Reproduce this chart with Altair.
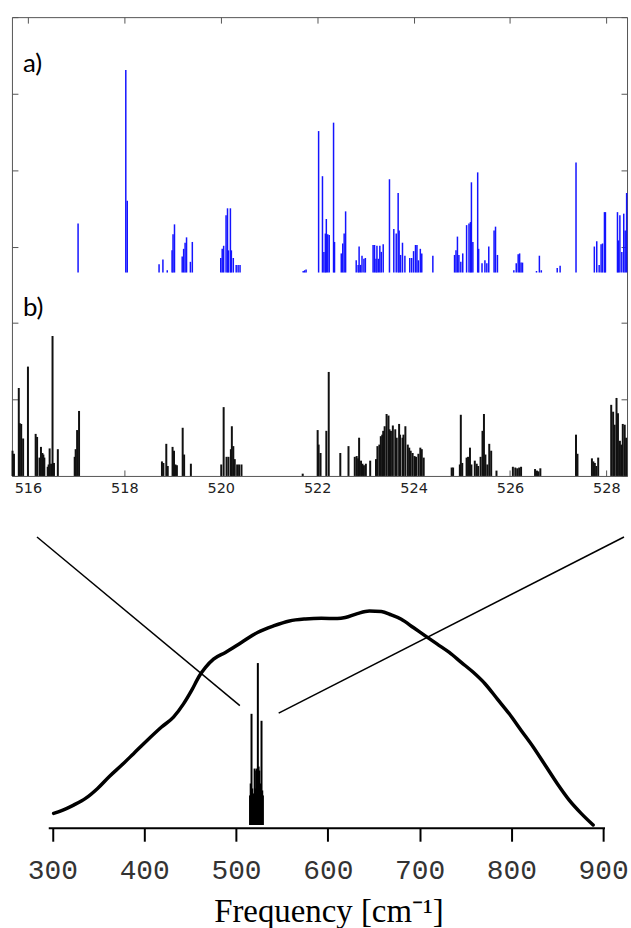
import altair as alt
import pandas as pd

# ---------------- top panel (a: blue sticks, offset; b: black sticks) ----------------
blue_freq = [517.04, 518.03, 518.06, 518.72, 518.80, 518.89, 518.99, 519.01, 519.04, 519.20,
             519.23, 519.26, 519.29, 519.37, 519.41, 520.00, 520.03, 520.06, 520.11, 520.14,
             520.16, 520.20, 520.22, 520.26, 520.32, 520.36, 520.40, 521.71, 521.74, 521.77,
             522.03, 522.11, 522.14, 522.17, 522.19, 522.22, 522.25, 522.34, 522.36, 522.50,
             522.53, 522.56, 522.59, 522.81, 522.85, 522.87, 522.90, 522.93, 522.97, 523.00,
             523.16, 523.19, 523.22, 523.24, 523.27, 523.30, 523.33, 523.37, 523.50, 523.59,
             523.64, 523.68, 523.70, 523.73, 523.77, 523.82, 523.92, 523.96, 524.00, 524.04,
             524.07, 524.10, 524.14, 524.17, 524.40, 524.85, 524.88, 524.91, 524.94, 524.98,
             525.02, 525.10, 525.15, 525.18, 525.20, 525.23, 525.33, 525.35, 525.42, 525.48,
             525.52, 525.56, 525.67, 525.70, 525.74, 526.08, 526.13, 526.17, 526.20, 526.23,
             526.26, 526.55, 526.61, 526.65, 526.98, 527.04, 527.37, 527.75, 527.80, 527.85,
             527.89, 527.92, 527.96, 527.98, 528.23, 528.25, 528.28, 528.32, 528.36, 528.39,
             528.42]
blue_val = [3.30, 5.31, 3.60, 2.77, 2.83, 2.69, 2.95, 3.16, 3.29, 2.87,
            2.97, 3.05, 3.12, 2.80, 3.06, 2.85, 2.97, 3.01, 3.41, 3.50,
            2.95, 3.50, 2.95, 2.85, 2.76, 2.76, 2.76, 2.68, 2.69, 2.70,
            4.51, 3.92, 2.93, 3.17, 3.36, 3.16, 3.15, 4.62, 3.06, 2.91,
            3.04, 3.17, 3.46, 2.82, 2.76, 3.00, 2.76, 2.88, 2.84, 2.85,
            3.02, 3.02, 2.84, 3.01, 2.84, 3.01, 2.93, 3.03, 3.88, 3.23,
            3.17, 3.70, 3.21, 2.89, 3.05, 2.88, 2.85, 2.85, 2.94, 3.02,
            3.02, 2.82, 2.97, 2.91, 2.88, 2.89, 2.95, 3.13, 2.89, 2.80,
            2.91, 3.28, 3.30, 3.32, 3.84, 3.06, 3.97, 2.97, 2.78, 2.82,
            2.78, 3.00, 3.21, 3.26, 2.89, 2.69, 2.78, 2.90, 2.91, 2.79,
            2.79, 2.68, 2.88, 2.69, 2.72, 2.75, 4.10, 3.00, 3.07, 2.76,
            3.03, 3.04, 3.45, 3.45, 3.45, 3.08, 3.41, 2.93, 3.43, 3.21,
            3.70]
blue_base = 2.66

black_freq = [515.68, 515.71, 515.81, 515.83, 515.86, 515.90, 516.00, 516.16, 516.19, 516.24,
              516.27, 516.30, 516.32, 516.34, 516.41, 516.43, 516.45, 516.48, 516.51, 516.54,
              516.62, 516.97, 516.99, 517.02, 517.06, 518.78, 518.81, 518.87, 518.90, 519.00,
              519.03, 519.06, 519.09, 519.21, 519.24, 519.38, 520.01, 520.06, 520.12, 520.16,
              520.21, 520.23, 520.26, 520.29, 520.34, 520.38, 520.43, 521.70, 522.01, 522.03,
              522.07, 522.19, 522.24, 522.48, 522.65, 522.78, 522.82, 522.85, 522.87, 522.91,
              522.94, 522.97, 523.01, 523.10, 523.22, 523.25, 523.29, 523.32, 523.35, 523.37,
              523.40, 523.44, 523.48, 523.50, 523.53, 523.57, 523.62, 523.65, 523.70, 523.72,
              523.77, 523.79, 523.83, 523.88, 523.91, 523.94, 523.98, 524.02, 524.05, 524.10,
              524.14, 524.17, 524.21, 524.79, 524.82, 524.96, 524.98, 525.01, 525.10, 525.13,
              525.17, 525.20, 525.27, 525.31, 525.34, 525.39, 525.43, 525.46, 525.49, 525.53,
              525.57, 525.61, 525.72, 526.06, 526.11, 526.15, 526.19, 526.23, 526.52, 526.56,
              526.59, 526.63, 527.37, 527.40, 527.70, 527.73, 527.76, 527.79, 527.83, 528.10,
              528.14, 528.17, 528.21, 528.24, 528.28, 528.31, 528.34, 528.38, 528.41]
black_val = [0.33, 0.29, 1.15, 0.69, 0.68, 0.49, 1.43, 0.55, 0.51, 0.24,
             0.38, 0.30, 0.28, 0.24, 0.12, 0.15, 0.36, 0.16, 1.83, 0.17,
             0.35, 0.25, 0.35, 0.60, 0.85, 0.19, 0.17, 0.42, 0.13, 0.38,
             0.33, 0.15, 0.14, 0.63, 0.28, 0.16, 0.15, 0.90, 0.25, 0.25,
             0.35, 0.65, 0.39, 0.22, 0.15, 0.15, 0.15, 0.03, 0.60, 0.41,
             0.30, 0.59, 1.36, 0.30, 0.39, 0.25, 0.26, 0.23, 0.50, 0.20,
             0.16, 0.14, 0.16, 0.20, 0.22, 0.39, 0.41, 0.52, 0.54, 0.59,
             0.65, 0.81, 0.79, 0.61, 0.59, 0.66, 0.61, 0.50, 0.68, 0.54,
             0.50, 0.54, 0.65, 0.41, 0.37, 0.33, 0.30, 0.26, 0.25, 0.29,
             0.37, 0.35, 0.24, 0.11, 0.11, 0.15, 0.80, 0.17, 0.24, 0.25,
             0.37, 0.15, 0.20, 0.16, 0.13, 0.25, 0.59, 0.81, 0.28, 0.15,
             0.42, 0.33, 0.07, 0.12, 0.11, 0.10, 0.11, 0.12, 0.09, 0.07,
             0.06, 0.10, 0.54, 0.29, 0.23, 0.19, 0.17, 0.13, 0.24, 0.93,
             0.84, 0.67, 1.02, 0.82, 0.46, 0.41, 0.68, 0.67, 0.50]
black_base = 0.0

top_x_ticks = [516, 518, 520, 522, 524, 526, 528]
top_y_ticks = [0, 1, 2, 3, 4, 5, 6]
top_x_domain = [515.668, 528.428]
top_y_domain = [0, 6]

# ---------------- bottom panel (broad spectrum + narrow inset) ----------------
curve_freq = [301.3, 310.0, 323.1, 336.1, 349.2, 362.3, 375.3, 388.4, 401.4, 418.9,
              431.9, 442.8, 451.5, 460.2, 466.8, 475.5, 488.5, 505.9, 523.4, 540.8,
              558.2, 575.6, 593.0, 610.4, 619.1, 632.2, 645.3, 658.3, 669.2, 680.1,
              693.2, 706.2, 719.3, 732.4, 745.4, 758.5, 771.5, 784.6, 797.7, 810.7,
              823.8, 836.9, 849.9, 863.0, 876.0, 889.1]
curve_val = [15.0, 17.7, 23.3, 30.0, 40.0, 52.3, 63.3, 75.0, 86.7, 101.7,
             111.7, 125.0, 138.3, 153.3, 161.7, 170.0, 176.7, 186.7, 196.7, 203.3,
             208.3, 210.3, 211.0, 210.7, 211.7, 215.7, 218.3, 217.7, 214.3, 210.0,
             201.7, 193.3, 185.0, 176.7, 166.7, 156.7, 145.0, 130.0, 115.0, 98.3,
             81.7, 63.3, 45.0, 28.3, 15.0, 3.3]

inset_freq = [515.3, 516.0, 516.9, 517.7, 518.6, 519.5, 520.3, 521.2, 522.0, 522.8,
              523.8, 524.6, 525.4, 526.2, 527.0, 527.8, 528.6, 529.3]
inset_val = [33, 45, 115, 40, 33, 35, 60, 40, 58, 60,
             166, 62, 58, 45, 40, 108, 38, 33]
inset_base = 3.3

diag_left_freq = [283.2, 504.2]
diag_left_val = [292.7, 123.3]
diag_right_freq = [546.5, 922.7]
diag_right_val = [115.7, 292.7]

axis_span = [296, 902]
bottom_x_ticks = [300, 400, 500, 600, 700, 800, 900]
bottom_x_domain = [255.9, 926.0]
bottom_y_domain = [0, 325]

# ---------------- build top chart ----------------
TX = alt.Scale(domain=top_x_domain, nice=False, zero=False)
TY = alt.Scale(domain=top_y_domain, nice=False, zero=False)

blue_df = pd.DataFrame({"freq": blue_freq, "val": blue_val})
blue_df["base"] = blue_base
black_df = pd.DataFrame({"freq": black_freq, "val": black_val})
black_df["base"] = black_base

common = dict(domain=False, grid=False, ticks=True, tickSize=6, tickColor="#555",
              tickWidth=1, offset=-6, title=None)

blue = alt.Chart(blue_df).mark_rule(color="#1414ff", strokeWidth=1.5).encode(
    x=alt.X("freq:Q", scale=TX, axis=alt.Axis(
        orient="bottom", values=top_x_ticks, labels=True, format="d",
        labelFont="DejaVu Sans", labelFontSize=14.5, labelColor="#222",
        labelPadding=6, labelFlush=False, labelOverlap=False, **common)),
    y=alt.Y("base:Q", scale=TY, axis=alt.Axis(
        orient="left", values=top_y_ticks, labels=False, **common)),
    y2="val:Q",
)

black = alt.Chart(black_df).mark_rule(color="#111111", strokeWidth=2).encode(
    x=alt.X("freq:Q", scale=TX, axis=alt.Axis(
        orient="top", values=top_x_ticks, labels=False, **common)),
    y=alt.Y("base:Q", scale=TY, axis=alt.Axis(
        orient="right", values=top_y_ticks, labels=False, **common)),
    y2="val:Q",
)

lab_a = alt.Chart(pd.DataFrame({"label": ["a)"]})).mark_text(
    font="Lato", fontSize=26, align="left", baseline="alphabetic", color="black"
).encode(text="label:N", x=alt.value(11), y=alt.value(55))

lab_b = alt.Chart(pd.DataFrame({"label": ["b)"]})).mark_text(
    font="Lato", fontSize=26, align="left", baseline="alphabetic", color="black"
).encode(text="label:N", x=alt.value(11), y=alt.value(300))

top = alt.layer(blue, black, lab_a, lab_b).resolve_axis(
    x="independent", y="independent"
).properties(width=618, height=461,
             view=alt.ViewBackground(stroke="#555555", strokeWidth=1))

# ---------------- build bottom chart ----------------
BX = alt.Scale(domain=bottom_x_domain, nice=False, zero=False)
BY = alt.Scale(domain=bottom_y_domain, nice=False, zero=False)

bottom_axis = alt.Axis(
    orient="bottom", values=bottom_x_ticks, domain=False, grid=False,
    tickSize=13, tickWidth=2, tickColor="black", format="d",
    labelFont="Liberation Mono", labelFontSize=28, labelColor="#333",
    labelBaseline="alphabetic", labelPadding=37, labelFlush=False,
    labelOverlap=False,
    title="Frequency [cm⁻¹]", titleFont="Liberation Serif", titleFontSize=33,
    titleFontWeight="normal", titleColor="black", titleBaseline="alphabetic",
    titleAlign="center", titleX=318, titleY=94)

curve_df = pd.DataFrame({"freq": curve_freq, "val": curve_val})
curve = alt.Chart(curve_df).mark_line(
    color="black", strokeWidth=3.5, interpolate="monotone", strokeCap="round"
).encode(
    x=alt.X("freq:Q", scale=BX, axis=bottom_axis),
    y=alt.Y("val:Q", scale=BY, axis=None),
)

axis_df = pd.DataFrame({"freq": [axis_span[0]], "freq_end": [axis_span[1]], "val": [0.0]})
axis_line = alt.Chart(axis_df).mark_rule(color="black", strokeWidth=2).encode(
    x=alt.X("freq:Q", scale=BX, axis=bottom_axis),
    x2="freq_end:Q",
    y=alt.Y("val:Q", scale=BY, axis=None),
)

diag_df = pd.DataFrame({
    "freq": diag_left_freq + diag_right_freq,
    "val": diag_left_val + diag_right_val,
    "seg": ["left", "left", "right", "right"],
})
diag = alt.Chart(diag_df).mark_line(color="black", strokeWidth=1.5).encode(
    x=alt.X("freq:Q", scale=BX, axis=bottom_axis),
    y=alt.Y("val:Q", scale=BY, axis=None),
    detail="seg:N",
)

inset_df = pd.DataFrame({"freq": inset_freq, "val_end": inset_val})
inset_df["val"] = inset_base
inset = alt.Chart(inset_df).mark_rule(color="black", strokeWidth=2).encode(
    x=alt.X("freq:Q", scale=BX, axis=bottom_axis),
    y=alt.Y("val:Q", scale=BY, axis=None),
    y2="val_end:Q",
)

bottom = alt.layer(curve, axis_line, diag, inset).properties(
    width=618, height=325,
    view=alt.ViewBackground(stroke="transparent", strokeWidth=0))

chart = alt.vconcat(
    top, bottom, spacing=9,
    padding={"left": 11, "top": 14, "right": 2, "bottom": 0},
    background="white",
).configure_view(stroke="transparent")

chart.save("out.html", embed_options={"renderer": "svg", "actions": False})
